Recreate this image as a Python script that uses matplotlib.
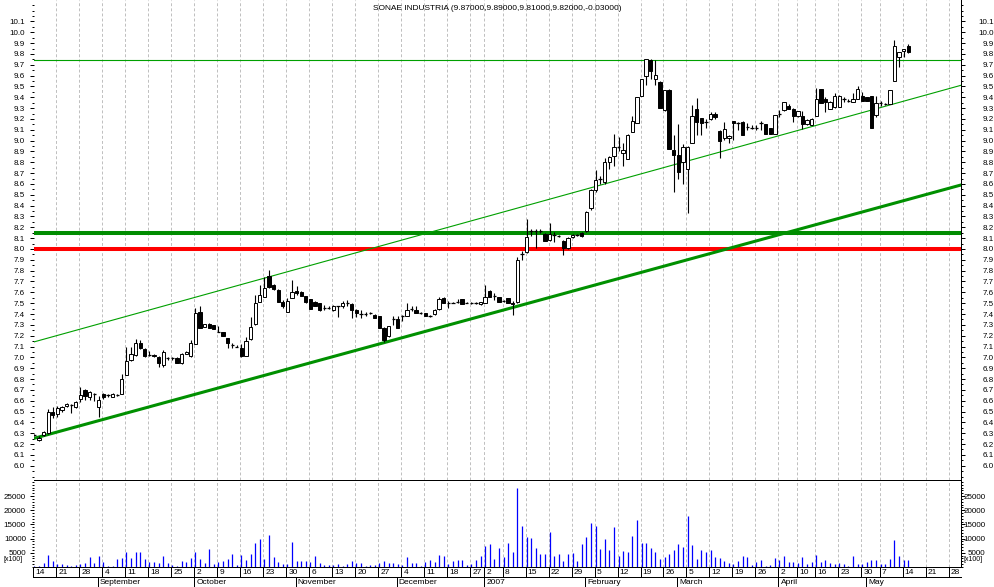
#!/usr/bin/env python3

import matplotlib
matplotlib.use("Agg")
import matplotlib.pyplot as plt
from matplotlib.patches import Rectangle
import numpy as np
import pandas as pd

matplotlib.rcParams.update({
    "font.family": ["Liberation Sans", "DejaVu Sans"],
    "font.size": 6,
    "axes.linewidth": 0.72,
})

TITLE = "SONAE INDUSTRIA (9.87000,9.89000,9.81000,9.82000,-0.03000)"
FIRST_DAY = "2006-08-14"
LAST_AXIS_DAY = "2007-06-01"
HOLIDAYS = ["2006-12-25", "2006-12-26", "2007-01-01",
            "2007-04-06", "2007-04-09", "2007-05-01"]
MONTH_NAMES = {1: "2007", 2: "February", 3: "March", 4: "April", 5: "May",
               9: "September", 10: "October", 11: "November", 12: "December"}

# daily candles, one entry per trading day from 14 Aug 2006
opens = [
    6.28, 6.24, 6.28, 6.30, 6.50, 6.48, 6.51, 6.55, 6.56, 6.54,
    6.62, 6.70, 6.63, 6.66, 6.54, 6.66, 6.65, 6.63, 6.65, 6.66,
    6.84, 6.98, 7.02, 7.13, 7.08, 7.02, 7.02, 7.00, 6.93, 6.99,
    6.99, 6.99, 6.95, 7.03, 7.01, 7.12, 7.42, 7.28, 7.31, 7.30,
    7.23, 7.23, 7.18, 7.11, 7.10, 7.09, 7.01, 7.17, 7.31, 7.51,
    7.56, 7.75, 7.67, 7.62, 7.51, 7.42, 7.55, 7.61, 7.60, 7.57,
    7.54, 7.51, 7.50, 7.46, 7.46, 7.44, 7.47, 7.47, 7.50, 7.49,
    7.44, 7.40, 7.40, 7.41, 7.39, 7.38, 7.27, 7.20, 7.35, 7.35,
    7.38, 7.38, 7.45, 7.44, 7.41, 7.41, 7.38, 7.40, 7.45, 7.55,
    7.50, 7.50, 7.51, 7.54, 7.50, 7.50, 7.50, 7.49, 7.50, 7.61,
    7.57, 7.56, 7.52, 7.55, 7.50, 7.51, 7.95, 7.97, 8.17, 8.17,
    8.17, 8.14, 8.08, 8.13, 8.12, 8.07, 8.01, 8.11, 8.13, 8.15,
    8.17, 8.38, 8.54, 8.65, 8.62, 8.80, 8.86, 8.94, 8.89, 8.83,
    9.08, 9.16, 9.41, 9.60, 9.74, 9.57, 9.54, 9.28, 9.47, 8.91,
    8.87, 8.80, 8.74, 8.98, 9.29, 9.21, 9.17, 9.20, 9.25, 9.09,
    9.02, 9.02, 9.18, 9.16, 9.17, 9.13, 9.12, 9.12, 9.16, 9.15,
    9.12, 9.06, 9.25, 9.28, 9.32, 9.29, 9.23, 9.23, 9.15, 9.14,
    9.23, 9.48, 9.38, 9.29, 9.31, 9.31, 9.38, 9.37, 9.36, 9.38,
    9.41, 9.40, 9.41, 9.24, 9.35, 9.34, 9.34, 9.55, 9.77, 9.83,
    9.87,
]
highs = [
    6.29, 6.27, 6.32, 6.52, 6.54, 6.55, 6.55, 6.58, 6.57, 6.60,
    6.73, 6.71, 6.69, 6.67, 6.64, 6.67, 6.66, 6.67, 6.66, 6.85,
    7.10, 7.10, 7.17, 7.16, 7.09, 7.06, 7.03, 7.01, 7.07, 7.00,
    7.00, 7.00, 7.04, 7.06, 7.16, 7.46, 7.47, 7.31, 7.32, 7.30,
    7.29, 7.23, 7.18, 7.13, 7.11, 7.12, 7.19, 7.37, 7.58, 7.67,
    7.74, 7.81, 7.68, 7.63, 7.53, 7.55, 7.71, 7.66, 7.61, 7.57,
    7.54, 7.52, 7.50, 7.48, 7.47, 7.48, 7.47, 7.52, 7.53, 7.50,
    7.45, 7.44, 7.42, 7.42, 7.40, 7.38, 7.28, 7.29, 7.38, 7.38,
    7.39, 7.50, 7.47, 7.47, 7.42, 7.41, 7.39, 7.45, 7.56, 7.56,
    7.52, 7.51, 7.54, 7.54, 7.51, 7.51, 7.51, 7.51, 7.67, 7.62,
    7.59, 7.56, 7.53, 7.55, 7.52, 7.93, 7.98, 8.28, 8.18, 8.18,
    8.18, 8.15, 8.24, 8.16, 8.13, 8.08, 8.11, 8.14, 8.14, 8.16,
    8.35, 8.55, 8.73, 8.67, 8.84, 8.86, 9.06, 9.03, 8.98, 9.06,
    9.23, 9.40, 9.57, 9.75, 9.75, 9.74, 9.55, 9.47, 9.48, 9.05,
    9.15, 8.97, 8.95, 9.33, 9.39, 9.21, 9.20, 9.26, 9.26, 9.10,
    9.17, 9.05, 9.18, 9.17, 9.18, 9.16, 9.14, 9.14, 9.18, 9.15,
    9.12, 9.24, 9.28, 9.36, 9.34, 9.30, 9.27, 9.27, 9.20, 9.21,
    9.49, 9.48, 9.40, 9.37, 9.44, 9.42, 9.40, 9.38, 9.44, 9.50,
    9.45, 9.40, 9.41, 9.41, 9.37, 9.35, 9.47, 9.93, 9.82, 9.85,
    9.89,
]
lows = [
    6.27, 6.23, 6.27, 6.29, 6.44, 6.45, 6.50, 6.54, 6.49, 6.53,
    6.59, 6.61, 6.61, 6.60, 6.45, 6.62, 6.63, 6.63, 6.64, 6.66,
    6.84, 6.97, 7.01, 7.08, 7.00, 7.01, 7.00, 6.91, 6.91, 6.98,
    6.98, 6.95, 6.94, 7.03, 7.00, 7.12, 7.27, 7.28, 7.27, 7.26,
    7.23, 7.20, 7.09, 7.09, 7.10, 7.00, 7.01, 7.16, 7.30, 7.51,
    7.56, 7.64, 7.62, 7.51, 7.46, 7.42, 7.55, 7.58, 7.57, 7.50,
    7.45, 7.47, 7.43, 7.44, 7.45, 7.43, 7.37, 7.46, 7.47, 7.36,
    7.37, 7.36, 7.38, 7.40, 7.36, 7.27, 7.14, 7.19, 7.30, 7.27,
    7.34, 7.38, 7.43, 7.41, 7.40, 7.38, 7.37, 7.39, 7.44, 7.50,
    7.46, 7.50, 7.50, 7.49, 7.50, 7.49, 7.49, 7.48, 7.50, 7.56,
    7.53, 7.51, 7.51, 7.50, 7.39, 7.50, 7.90, 7.96, 8.12, 8.01,
    8.15, 8.07, 8.07, 8.06, 8.11, 7.94, 8.00, 8.10, 8.12, 8.11,
    8.16, 8.36, 8.53, 8.60, 8.60, 8.74, 8.77, 8.90, 8.77, 8.83,
    9.08, 9.16, 9.41, 9.51, 9.57, 9.51, 9.30, 9.27, 8.92, 8.53,
    8.65, 8.60, 8.33, 8.98, 9.05, 9.05, 9.12, 9.19, 9.20, 8.84,
    9.01, 8.98, 9.01, 9.10, 9.05, 9.10, 9.11, 9.10, 9.10, 9.06,
    9.06, 9.06, 9.22, 9.27, 9.29, 9.17, 9.22, 9.11, 9.14, 9.14,
    9.23, 9.35, 9.26, 9.29, 9.30, 9.31, 9.36, 9.36, 9.36, 9.38,
    9.37, 9.37, 9.12, 9.22, 9.32, 9.33, 9.34, 9.55, 9.68, 9.77,
    9.81,
]
closes = [
    6.28, 6.26, 6.31, 6.50, 6.47, 6.53, 6.54, 6.57, 6.56, 6.59,
    6.65, 6.64, 6.68, 6.66, 6.61, 6.63, 6.65, 6.66, 6.65, 6.80,
    6.97, 7.03, 7.13, 7.09, 7.01, 7.02, 7.01, 6.95, 7.05, 6.99,
    6.99, 6.95, 7.03, 7.05, 7.13, 7.41, 7.27, 7.31, 7.27, 7.26,
    7.23, 7.20, 7.13, 7.11, 7.10, 7.01, 7.15, 7.28, 7.50, 7.58,
    7.64, 7.65, 7.63, 7.51, 7.47, 7.52, 7.60, 7.59, 7.57, 7.51,
    7.45, 7.47, 7.44, 7.46, 7.46, 7.47, 7.47, 7.50, 7.50, 7.44,
    7.41, 7.40, 7.40, 7.41, 7.36, 7.27, 7.16, 7.29, 7.35, 7.27,
    7.38, 7.44, 7.45, 7.41, 7.41, 7.38, 7.38, 7.44, 7.54, 7.50,
    7.50, 7.50, 7.51, 7.49, 7.50, 7.50, 7.50, 7.51, 7.56, 7.56,
    7.57, 7.51, 7.52, 7.50, 7.49, 7.90, 7.95, 8.11, 8.17, 8.17,
    8.17, 8.07, 8.14, 8.13, 8.12, 8.01, 8.10, 8.13, 8.13, 8.12,
    8.34, 8.54, 8.64, 8.65, 8.80, 8.85, 8.94, 8.94, 8.91, 9.05,
    9.18, 9.40, 9.57, 9.75, 9.64, 9.61, 9.30, 9.47, 8.92, 8.87,
    8.71, 8.94, 8.94, 9.23, 9.17, 9.16, 9.17, 9.25, 9.22, 9.00,
    9.11, 9.04, 9.16, 9.16, 9.05, 9.13, 9.12, 9.12, 9.16, 9.06,
    9.06, 9.24, 9.25, 9.36, 9.29, 9.23, 9.27, 9.15, 9.19, 9.20,
    9.38, 9.35, 9.36, 9.36, 9.41, 9.41, 9.38, 9.37, 9.38, 9.48,
    9.37, 9.37, 9.12, 9.35, 9.35, 9.34, 9.47, 9.87, 9.82, 9.85,
    9.82,
]
volumes = [
    200, 300, 1300, 4200, 2100, 1100, 1100, 700, 200, 700,
    1100, 1500, 3400, 1500, 3900, 1800, 200, 200, 2800, 3200,
    5300, 3200, 5300, 5300, 2800, 1800, 1800, 1500, 3900, 1500,
    600, 500, 2100, 1800, 3200, 5300, 2800, 1500, 6300, 1100,
    1800, 2100, 2800, 4600, 700, 4200, 2500, 4600, 8500, 9900,
    2800, 11300, 3400, 1800, 1100, 1100, 8800, 2100, 2100, 2100,
    1800, 3900, 1500, 700, 600, 600, 1100, 400, 1100, 2100,
    1500, 1500, 400, 700, 700, 1500, 2100, 1500, 1500, 1100,
    700, 3400, 1400, 1500, 400, 1800, 2500, 1800, 4200, 3900,
    1100, 2100, 2500, 2500, 700, 1100, 2500, 3900, 7400, 8100,
    2800, 6700, 3500, 8500, 5300, 27900, 14500, 10600, 10200, 6700,
    4600, 4600, 12300, 3900, 4600, 2100, 4600, 4900, 2100, 8100,
    10600, 15500, 14500, 6300, 9900, 6000, 14100, 3900, 5600, 5300,
    10900, 16600, 8500, 8500, 6700, 5300, 2800, 3500, 4600, 6000,
    8100, 7100, 18000, 7800, 2800, 6000, 5300, 6000, 3500, 3200,
    2100, 1400, 1100, 2100, 3900, 3500, 700, 1800, 2500, 200,
    700, 3200, 2500, 3900, 1800, 1800, 1400, 3500, 1100, 1800,
    4200, 1800, 2500, 1400, 1100, 1400, 1100, 200, 3900, 1100,
    1100, 1800, 2500, 2500, 1100, 1100, 2800, 9500, 3900, 2500,
    2500,
]

# drawn levels: (x index, price) end points of the two channel lines
upper_channel = [(-0.3, 7.14), (201.4, 9.51)]
lower_channel = [(-0.3, 6.25), (201.4, 8.59)]
resistance_top = 9.74
support_green = 8.15
support_red = 8.00

price_ticks = np.round(np.arange(6.0, 10.15, 0.1), 1)
volume_ticks = [5000, 10000, 15000, 20000, 25000]

GRID_KW = dict(color="#c0c0c0", lw=0.72, ls=(0, (2.9, 2.2)), zorder=0)
XLIM = (-0.2, 201.4)
TICK_SHIFT = -0.22


def trading_days():
    days = pd.bdate_range(FIRST_DAY, LAST_AXIS_DAY)
    return days[~days.isin(pd.to_datetime(HOLIDAYS))]


def week_starts(days):
    weeks = days.to_period("W")
    return [0] + [i for i in range(1, len(days)) if weeks[i] != weeks[i - 1]]


def month_starts(days):
    return [i for i in range(1, len(days)) if days[i].month != days[i - 1].month]


def style_y(ax, ticks, minor, left_pad, right_pad, fmt):
    ax.set_yticks(ticks)
    ax.set_yticks(minor, minor=True)
    ax.set_yticklabels([fmt(t) for t in ticks])
    ax.tick_params(axis="y", which="major", direction="out", length=2.9,
                   width=0.72, labelsize=5.8, pad=left_pad)
    ax.tick_params(axis="y", which="minor", direction="out", length=1.4,
                   width=0.72)
    axr = ax.twinx()
    axr.set_ylim(ax.get_ylim())
    axr.set_yticks(ticks)
    axr.set_yticks(minor, minor=True)
    axr.set_yticklabels([fmt(t) for t in ticks])
    axr.tick_params(axis="y", which="major", direction="out", length=2.9,
                    width=0.72, labelsize=5.8, pad=right_pad)
    axr.tick_params(axis="y", which="minor", direction="out", length=1.4,
                    width=0.72)
    for lbl in axr.get_yticklabels():
        lbl.set_horizontalalignment("right")
    for s in ["top", "bottom", "left"]:
        axr.spines[s].set_visible(False)
    return axr


def draw_candles(ax):
    x = np.arange(len(closes))
    ax.vlines(x, lows, highs, color="black", lw=0.8, zorder=4)
    w = 0.72
    for xi, o, c in zip(x, opens, closes):
        if abs(c - o) < 0.005:
            ax.hlines(c, xi - w / 2, xi + w / 2, color="black", lw=0.9, zorder=5)
            continue
        face = "white" if c > o else "black"
        ax.add_patch(Rectangle((xi - w / 2, min(o, c)), w, abs(c - o),
                               facecolor=face, edgecolor="black", lw=0.7,
                               zorder=5))


def main():
    days = trading_days()
    weeks = [i for i in week_starts(days) if i <= XLIM[1]]
    months = [i for i in month_starts(days) if i <= XLIM[1]]

    fig = plt.figure(figsize=(9.94, 5.87), dpi=100)
    W, H = 994.0, 587.0
    left, width = 33.5 / W, 927.2 / W
    ax = fig.add_axes([left, 107 / H, width, 480 / H])
    axv = fig.add_axes([left, 20 / H, width, 87 / H])
    axd = fig.add_axes([left, 0, width, 20 / H])

    # price panel
    ax.set_xlim(*XLIM)
    ax.set_ylim(5.868, 10.298)
    for i in weeks:
        ax.axvline(i + TICK_SHIFT, **GRID_KW)
    ax.axhline(resistance_top, color="#00a000", lw=0.8, zorder=2)
    ax.axhline(support_green, color="#008c00", lw=2.9, zorder=2)
    ax.axhline(support_red, color="#ff0000", lw=2.9, zorder=2)
    ax.plot(*zip(*upper_channel), color="#00a000", lw=0.8, zorder=2)
    ax.plot(*zip(*lower_channel), color="#009000", lw=2.2, zorder=2)
    draw_candles(ax)
    ax.set_xticks([])
    for s in ["top", "bottom", "left", "right"]:
        ax.spines[s].set_visible(False)
    minor_p = np.round(np.arange(5.9, 10.3, 0.05), 2)
    axr = style_y(ax, price_ticks, minor_p, 3.2, 21.0, lambda t: f"{t:.1f}")
    axr.spines["right"].set_visible(True)

    # volume panel
    axv.set_xlim(*XLIM)
    axv.set_ylim(0, 30700)
    for i in weeks:
        axv.axvline(i + TICK_SHIFT, **GRID_KW)
    axv.vlines(np.arange(len(volumes)), 0, volumes, color="#0000ff", lw=0.9,
               zorder=3)
    axv.set_xticks([])
    axv.spines["left"].set_visible(False)
    axv.spines["right"].set_visible(False)
    minor_v = np.arange(0, 30001, 1000)
    axvr = style_y(axv, volume_ticks, minor_v, 2.5, 15.0, lambda t: f"{t:d}")
    axvr.spines["right"].set_visible(True)
    fig.text(3 / W, 1 - 559.5 / H, "[x100]", fontsize=5, va="center", ha="left")
    fig.text(963 / W, 1 - 559.5 / H, "[x100]", fontsize=5, va="center", ha="left")

    # date rows
    axd.set_xlim(*XLIM)
    axd.set_ylim(20, 0)
    axd.axis("off")
    axd.plot(XLIM, [10, 10], color="black", lw=0.72, clip_on=False)
    for i in weeks:
        xp = i + TICK_SHIFT
        axd.plot([xp, xp], [0, 10], color="black", lw=0.72, clip_on=False)
        axd.text(xp + 0.45, 5.2, str(days[i].day), fontsize=6, va="center",
                 ha="left")
    for i in months:
        xp = i + TICK_SHIFT
        axd.plot([xp, xp], [10, 20], color="black", lw=0.72, clip_on=False)
        axd.text(xp + 0.45, 15.2, MONTH_NAMES.get(days[i].month, ""),
                 fontsize=6, va="center", ha="left")

    fig.text(497.5 / W, 1 - 8.3 / H, TITLE, fontsize=6, ha="center",
             va="center")

    fig.savefig("out.png", dpi=100)
    plt.close(fig)


if __name__ == "__main__":
    main()
